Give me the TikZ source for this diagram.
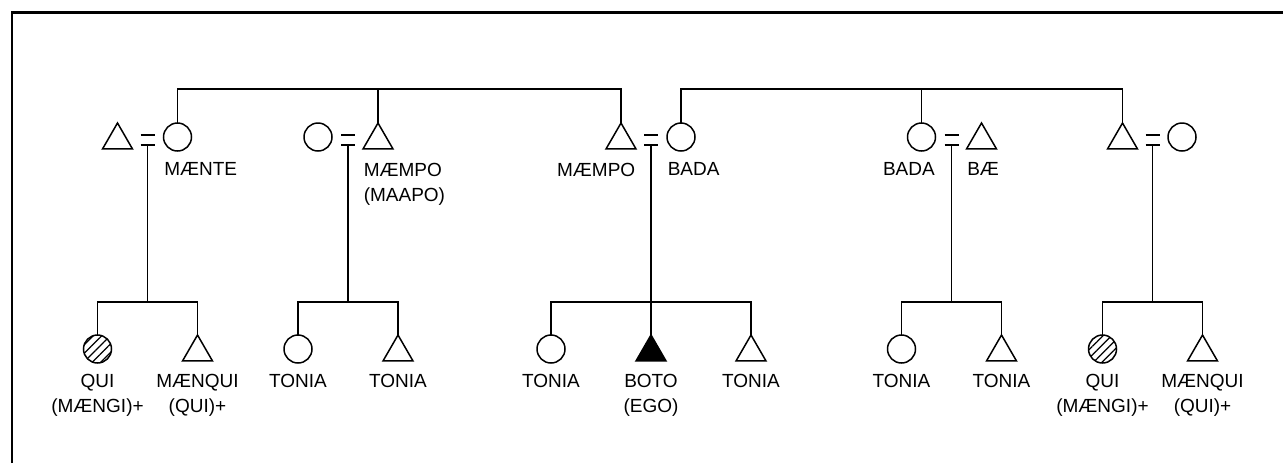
\documentclass[tikz,border=0pt]{standalone}
\usepackage{fontspec}
\setmainfont{Liberation Sans}
\usetikzlibrary{
  shapes.geometric,
  patterns.meta,
}

\begin{document}
\begin{tikzpicture}[
  x=0.5pt, y=-0.5pt,
  line width=0.75pt,
  every node/.style={font=\fontsize{9.5pt}{12.5pt}\selectfont},
  female/.style={circle, draw, minimum size=14pt, inner sep=0pt, outer sep=0pt},
  male/.style={regular polygon, regular polygon sides=3, draw,
    minimum size=17.3pt, inner sep=0pt, outer sep=0pt},
  egobox/.style={male, fill=black},
  hatched/.style={female, pattern={Lines[angle=45, distance=3pt, line width=0.6pt]}},
  marriage/.style={minimum width=7pt, minimum height=5pt, inner sep=0pt, outer sep=0pt},
  spouselbl/.style={inner sep=0pt, align=left},
  kinlbl/.style={inner sep=0pt, align=center, anchor=north},
]
  \useasboundingbox (0,0) rectangle (1283,463);

  % Frame
  \draw[line width=1.4pt] (12,463) -- (12,12.5) -- (1283,12.5);

  % Rows
  \coordinate (gen)     at (0,89);
  \coordinate (sib)     at (0,302);
  \coordinate (toplbl)  at (0,162);
  \coordinate (kidlbl)  at (0,373);

  % Couples
  \node[male]     (c1h) at (117.5,140.3) {};
  \node[marriage] (e1)  at (147.5,140) {};
  \node[female]   (c1w) at (177.5,137) {};

  \node[female]   (c2w) at (318,137) {};
  \node[marriage] (e2)  at (348,140) {};
  \node[male]     (c2h) at (378,140.3) {};

  \node[male]     (c3h) at (621,140.3) {};
  \node[marriage] (e3)  at (651,140) {};
  \node[female]   (c3w) at (681,137) {};

  \node[female]   (c4w) at (921.5,137) {};
  \node[marriage] (e4)  at (951.5,140) {};
  \node[male]     (c4h) at (981.5,140.3) {};

  \node[male]     (c5h) at (1122.5,140.3) {};
  \node[marriage] (e5)  at (1152.5,140) {};
  \node[female]   (c5w) at (1182,137) {};

  \foreach \e in {e1,e2,e3,e4,e5}
    \draw (\e.north west) -- (\e.north east) (\e.south west) -- (\e.south east);

  % Children
  \node[hatched] (k1a) at (97.5,349) {};
  \node[male]    (k1b) at (197.5,352.3) {};

  \node[female]  (k2a) at (298,349) {};
  \node[male]    (k2b) at (398,352.3) {};

  \node[female]  (k3a) at (551,349) {};
  \node[egobox]  (ego) at (651,352.3) {};
  \node[male]    (k3c) at (751,352.3) {};

  \node[female]  (k4a) at (901.5,349) {};
  \node[male]    (k4b) at (1001.5,352.3) {};

  \node[hatched] (k5a) at (1102.5,349) {};
  \node[male]    (k5b) at (1202.5,352.3) {};

  % Sibling lines, parents' generation
  \draw (c1w.north) -- (c1w.north |- gen) -- (c3h.north |- gen) -- (c3h.north);
  \draw (c2h.north) -- (c2h.north |- gen);
  \draw (c3w.north) -- (c3w.north |- gen) -- (c5h.north |- gen) -- (c5h.north);
  \draw (c4w.north) -- (c4w.north |- gen);

  % Descent lines
  \foreach \e/\a/\b in {e1/k1a/k1b, e2/k2a/k2b, e3/k3a/k3c, e4/k4a/k4b, e5/k5a/k5b} {
    \draw (\e.south) -- (\e.south |- sib);
    \draw (\a.north) -- (\a.north |- sib) -- (\b.north |- sib) -- (\b.north);
  }
  \draw (e3.south |- sib) -- (ego.north);

  % Spouse names
  \node[spouselbl, anchor=north west] (l1w) at (c1w.west |- toplbl) {MÆNTE};
  \node[spouselbl, anchor=north west] (l2h) at (c2h.corner 2 |- toplbl) {MÆMPO\\(MAAPO)};
  \node[spouselbl, anchor=north east] (l3h) at (c3h.corner 3 |- toplbl) {MÆMPO};
  \node[spouselbl, anchor=north west] (l3w) at (c3w.west |- toplbl) {BADA};
  \node[spouselbl, anchor=north east] (l4w) at (c4w.east |- toplbl) {BADA};
  \node[spouselbl, anchor=north west] (l4h) at (c4h.corner 2 |- toplbl) {BÆ};

  % Children names
  \node[kinlbl] (m1a) at (k1a |- kidlbl) {QUI\\(MÆNGI)+};
  \node[kinlbl] (m1b) at (k1b |- kidlbl) {MÆNQUI\\(QUI)+};
  \node[kinlbl] (m2a) at (k2a |- kidlbl) {TONIA};
  \node[kinlbl] (m2b) at (k2b |- kidlbl) {TONIA};
  \node[kinlbl] (m3a) at (k3a |- kidlbl) {TONIA};
  \node[kinlbl] (mego) at (ego |- kidlbl) {BOTO\\(EGO)};
  \node[kinlbl] (m3c) at (k3c |- kidlbl) {TONIA};
  \node[kinlbl] (m4a) at (k4a |- kidlbl) {TONIA};
  \node[kinlbl] (m4b) at (k4b |- kidlbl) {TONIA};
  \node[kinlbl] (m5a) at (k5a |- kidlbl) {QUI\\(MÆNGI)+};
  \node[kinlbl] (m5b) at (k5b |- kidlbl) {MÆNQUI\\(QUI)+};

\end{tikzpicture}
\end{document}
